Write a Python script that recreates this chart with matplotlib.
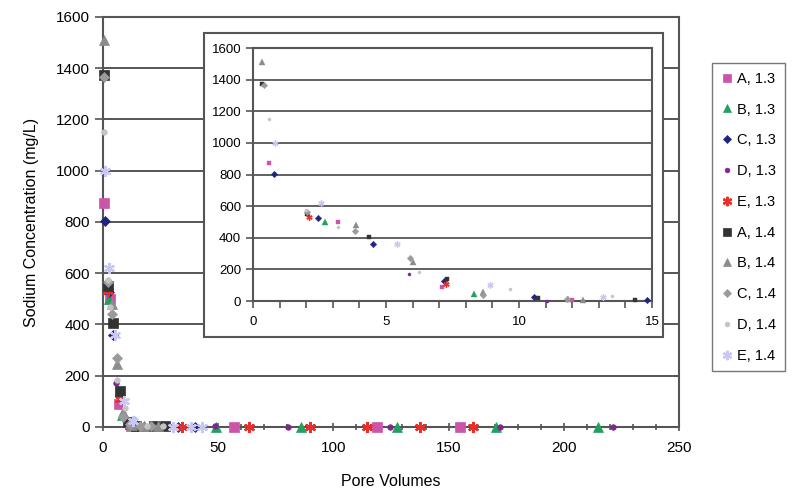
"""Sodium concentration vs pore volumes, with zoomed inset."""
import matplotlib

matplotlib.use("Agg")
import matplotlib.pyplot as plt  # noqa: E402
from matplotlib.patches import Rectangle  # noqa: E402

plt.rcParams["font.family"] = ["Liberation Sans", "DejaVu Sans"]

labels = ["A, 1.3", "B, 1.3", "C, 1.3", "D, 1.3", "E, 1.3",
          "A, 1.4", "B, 1.4", "C, 1.4", "D, 1.4", "E, 1.4"]

a13_x = [0.6, 3.2, 7.1, 12.0, 57, 119, 155]
a13_y = [875, 500, 90, 5, 0, 0, 0]
b13_x = [2.7, 8.3, 18, 49, 86, 127.5, 170.5, 215]
b13_y = [500, 45, 2, 0, 0, 0, 0, 0]
c13_x = [0.8, 2.45, 4.5, 7.2, 10.55, 14.8, 32.7, 40]
c13_y = [805, 525, 360, 125, 25, 5, 0, 0]
d13_x = [5.85, 11.05, 25, 48.5, 80.3, 124.6, 172.3, 221.2]
d13_y = [170, 2, 2, 3, 0, 0, 0, 0]
e13_x = [2.1, 7.25, 34.5, 63.4, 89.8, 114.4, 137.6, 160.7]
e13_y = [530, 110, 0, 0, 0, 0, 0, 0]
a14_x = [0.35, 2.05, 4.35, 7.3, 10.7, 14.35, 22, 27]
a14_y = [1375, 550, 405, 140, 20, 5, 3, 2]
b14_x = [0.33, 3.86, 6.0, 8.66, 11.85, 12.4, 18, 24]
b14_y = [1510, 480, 245, 60, 15, 8, 3, 2]
c14_x = [0.4, 2.05, 3.82, 5.9, 8.66, 11.8, 16, 21]
c14_y = [1365, 565, 440, 270, 40, 10, 3, 2]
d14_x = [0.6, 2.0, 3.2, 6.25, 9.65, 13.5, 19, 26]
d14_y = [1150, 575, 470, 185, 75, 30, 3, 2]
e14_x = [0.83, 2.55, 5.4, 8.93, 13.15, 30.6, 38, 43]
e14_y = [1000, 620, 360, 100, 25, 0, 0, 0]

xs = [a13_x, b13_x, c13_x, d13_x, e13_x, a14_x, b14_x, c14_x, d14_x, e14_x]
ys = [a13_y, b13_y, c13_y, d13_y, e13_y, a14_y, b14_y, c14_y, d14_y, e14_y]

colors = ["#CC55AA", "#22A060", "#1F2480", "#7B2A8C", "#E8302A",
          "#333333", "#8C8C8C", "#9A9A9A", "#C4C4C4", "#C8C8F0"]
markers = ["s", "^", "D", "o", (6, 2, 0), "s", "^", "D", "o", (6, 2, 0)]
sizes = [6.5, 7, 6, 4, 8, 6.5, 7, 6, 4, 8]

fig = plt.figure(figsize=(7.94, 4.95), dpi=100)
ax = fig.add_axes([0.1297, 0.1374, 0.7254, 0.8283])

for x, y, c, m, s, lab in zip(xs, ys, colors, markers, sizes, labels):
    ms = s * 0.85 if m == "D" else s
    ax.plot(x, y, ls="none", marker=m, color=c, markersize=ms,
            markeredgecolor=c, markeredgewidth=1.6 if isinstance(m, tuple) else 0.5,
            label=lab, clip_on=False, zorder=3)

ax.set_xlim(0, 250)
ax.set_ylim(0, 1600)
ax.set_xticks(range(0, 251, 50))
ax.set_xticks(range(0, 251, 10), minor=True)
ax.set_yticks(range(0, 1601, 200))
ax.tick_params(axis="x", which="both", direction="inout", length=6, width=1.2,
               labelsize=11, pad=7, color="#555555")
ax.tick_params(axis="x", which="minor", length=5)
ax.tick_params(axis="y", direction="out", length=6, width=1.2, labelsize=11,
               color="#555555")
ax.yaxis.grid(True, color="#555555", lw=1.4)
ax.set_axisbelow(True)
for sp in ax.spines.values():
    sp.set_color("#555555")
    sp.set_linewidth(1.5)
ax.set_xlabel("Pore Volumes", fontsize=11.5, labelpad=14)
ax.set_ylabel("Sodium Concentration (mg/L)", fontsize=11.5, labelpad=12)

# inset panel
box = Rectangle((0.2569, 0.3192), 0.578, 0.614, transform=fig.transFigure,
                facecolor="white", edgecolor="#555555", lw=1.5, zorder=5)
fig.patches.append(box)

ins = fig.add_axes([0.3186, 0.3919, 0.5025, 0.5111], zorder=6)
for x, y, c, m, s in zip(xs, ys, colors, markers, sizes):
    pts = [(xi, yi) for xi, yi in zip(x, y) if xi <= 15]
    ms = s * 0.55
    ins.plot([p[0] for p in pts], [p[1] for p in pts], ls="none", marker=m,
             color=c, markersize=ms, markeredgecolor=c,
             markeredgewidth=1.0 if isinstance(m, tuple) else 0.3,
             clip_on=False, zorder=3)
ins.set_xlim(0, 15)
ins.set_ylim(0, 1600)
ins.set_xticks(range(0, 16, 5))
ins.set_xticks(range(0, 16, 1), minor=True)
ins.set_yticks(range(0, 1601, 200))
ins.tick_params(axis="both", which="both", direction="out", length=5, width=1.2,
                labelsize=9.5, color="#555555")
ins.tick_params(axis="x", pad=6)
ins.yaxis.grid(True, color="#555555", lw=1.3)
ins.set_axisbelow(True)
for sp in ins.spines.values():
    sp.set_color("#555555")
    sp.set_linewidth(1.5)

fig.legend(loc="upper left", bbox_to_anchor=(0.8967, 0.8727), fontsize=10.5,
           frameon=True, fancybox=False, edgecolor="#555555", labelspacing=1.15,
           handlelength=0.8, handletextpad=0.3, borderpad=0.6, markerscale=0.85,
           borderaxespad=0)

fig.savefig("out.png", dpi=100)
